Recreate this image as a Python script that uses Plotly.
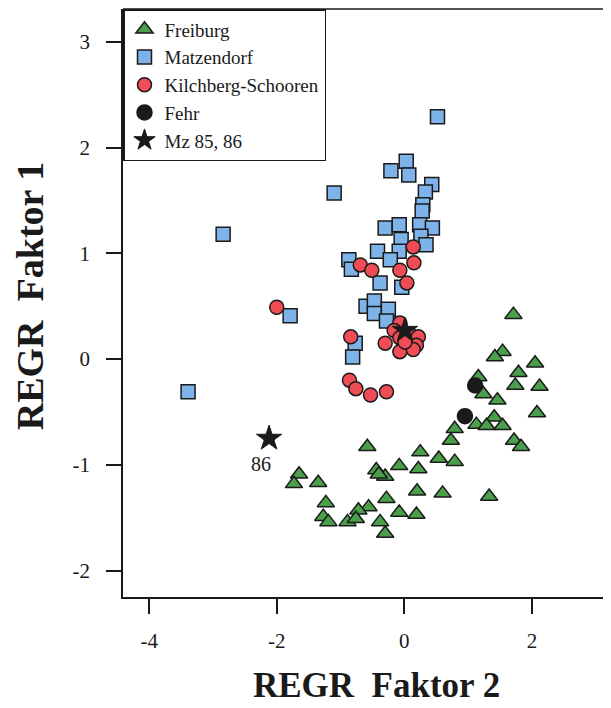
import plotly.graph_objects as go

# Freiburg (triangles)
frei_x = [1.71, 1.54, 1.42, 2.05, 1.79, 1.74, 2.12, 1.16, 1.24, 1.46, 2.08, 1.41, 1.13, 1.29, 1.54,
          0.79, 0.73, 1.72, 1.83, 0.25, 0.54, 0.79, 0.22, 0.20, 0.60, 1.33,
          -0.58, -0.08, -0.44, -0.30, -0.40, -1.65, -1.73, -1.35, -0.28, -1.23, -0.56, -0.72,
          -0.08, 0.19, -1.27, -1.19, -0.89, -0.76, -0.38, -0.30]
frei_y = [0.42, 0.07, 0.02, -0.04, -0.13, -0.25, -0.26, -0.17, -0.33, -0.39, -0.51, -0.55, -0.62, -0.63, -0.63,
          -0.66, -0.77, -0.77, -0.83, -0.88, -0.94, -0.97, -1.04, -1.25, -1.27, -1.30,
          -0.83, -1.01, -1.05, -1.11, -1.09, -1.09, -1.18, -1.17, -1.32, -1.36, -1.40, -1.43,
          -1.45, -1.47, -1.49, -1.54, -1.54, -1.51, -1.54, -1.65]

# Matzendorf (squares)
matz_x = [0.52, 0.03, -0.21, 0.07, -1.10, 0.43, 0.33, 0.29, 0.28, -0.30, -0.08, 0.24, 0.44, -0.05,
          0.26, 0.34, -0.42, -0.08, -0.22, -0.87, -0.83, -0.38, -0.04, -0.60, -0.47, -0.47, -0.25,
          -0.28, -0.77, -0.81, -2.84, -3.39, -1.79]
matz_y = [2.29, 1.87, 1.78, 1.74, 1.57, 1.65, 1.58, 1.46, 1.40, 1.24, 1.27, 1.27, 1.24, 1.13,
          1.16, 1.08, 1.02, 1.02, 0.94, 0.94, 0.85, 0.72, 0.68, 0.50, 0.55, 0.43, 0.47,
          0.36, 0.15, 0.02, 1.18, -0.31, 0.41]

# Kilchberg-Schooren (circles)
kilch_x = [-0.69, -0.51, -0.07, 0.15, 0.14, 0.04, -2.00, -0.84, -0.07, -0.16, -0.07, 0.09, 0.22,
           0.19, -0.30, -0.07, 0.14, 0.01, -0.86, -0.76, -0.53, -0.28]
kilch_y = [0.89, 0.84, 0.84, 0.91, 1.06, 0.72, 0.49, 0.21, 0.34, 0.27, 0.20, 0.23, 0.21,
           0.13, 0.15, 0.07, 0.09, 0.16, -0.20, -0.28, -0.34, -0.31]

# Fehr (black circles)
fehr_x = [1.11, 0.95]
fehr_y = [-0.25, -0.54]

# Mz 85, 86 (stars)
mz_x = [0.01, -2.12]
mz_y = [0.27, -0.75]
mz_labels = ["", "86"]

x_ticks = [-4, -2, 0, 2]
y_ticks = [-2, -1, 0, 1, 2, 3]

SERIF = "Liberation Serif"
INK = "#1a1a1a"
OUT = dict(color=INK, width=1.5)

fig = go.Figure()
fig.add_trace(go.Scatter(x=frei_x, y=frei_y, mode="markers", name="Freiburg",
                         marker=dict(symbol="triangle-up", size=15, color="#4a9f4a", line=OUT)))
fig.add_trace(go.Scatter(x=matz_x, y=matz_y, mode="markers", name="Matzendorf",
                         marker=dict(symbol="square", size=14, color="#7db3e8", line=OUT)))
fig.add_trace(go.Scatter(x=kilch_x, y=kilch_y, mode="markers", name="Kilchberg-Schooren",
                         marker=dict(symbol="circle", size=14, color="#f04c55", line=OUT)))
fig.add_trace(go.Scatter(x=fehr_x, y=fehr_y, mode="markers", name="Fehr",
                         marker=dict(symbol="circle", size=15, color=INK, line=OUT)))
fig.add_trace(go.Scatter(x=mz_x, y=mz_y, mode="markers", name="Mz 85, 86",
                         marker=dict(symbol="star", size=19, color=INK, line=dict(color=INK, width=1))))

for xv, yv, lab in zip(mz_x, mz_y, mz_labels):
    if lab:
        fig.add_annotation(x=xv, y=yv, text=lab, showarrow=False, xshift=-8, yshift=-26,
                           font=dict(family=SERIF, size=20, color=INK))

fig.add_annotation(xref="paper", yref="paper", x=0.52, y=-0.151, text="<b>REGR\u00a0 Faktor 2</b>",
                   showarrow=False, xanchor="center", yanchor="middle",
                   font=dict(family=SERIF, size=35, color=INK))
fig.add_annotation(xref="paper", yref="paper", x=-0.19, y=0.512, text="<b>REGR\u00a0 Faktor 1</b>",
                   showarrow=False, xanchor="center", yanchor="middle", textangle=-90,
                   font=dict(family=SERIF, size=38, color=INK))

axis_common = dict(showgrid=False, zeroline=False, showline=True, linecolor=INK, linewidth=1.5,
                   ticks="outside", ticklen=15, tickwidth=1.5, tickcolor=INK,
                   tickfont=dict(family=SERIF, size=21, color=INK))
fig.update_xaxes(range=[-4.41, 3.24], tickvals=x_ticks, ticktext=[str(v) for v in x_ticks],
                 mirror=False, ticklabelstandoff=9, **axis_common)
fig.update_yaxes(range=[-2.25, 3.31], tickvals=y_ticks, ticktext=[str(v) for v in y_ticks],
                 ticklabelstandoff=12, **axis_common)
# top frame line
fig.add_shape(type="line", xref="paper", yref="paper", x0=0, x1=1, y0=1, y1=1,
              line=dict(color=INK, width=1.5))

fig.update_layout(
    width=603, height=700,
    margin=dict(l=115, r=0, t=1, b=111),
    font=dict(family=SERIF, color=INK),
    paper_bgcolor="white", plot_bgcolor="white",
    showlegend=True,
    legend=dict(x=0, y=1, xanchor="left", yanchor="top", bgcolor="white",
                bordercolor=INK, borderwidth=1.5,
                font=dict(family=SERIF, size=19, color=INK),
                itemwidth=30, tracegroupgap=0),
)

fig.write_html("out.html")
